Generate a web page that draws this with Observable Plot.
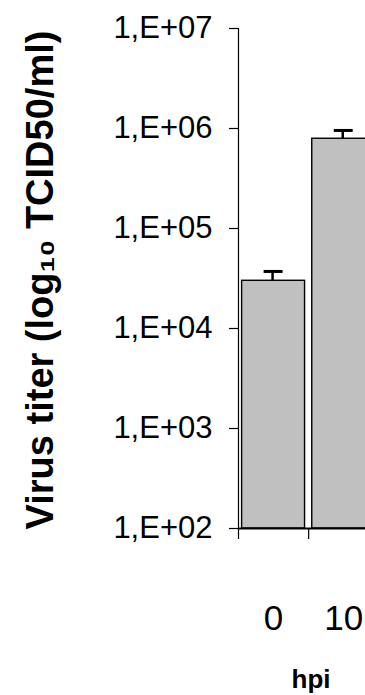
<!DOCTYPE html>
<html>
<head>
<meta charset="utf-8">
<script src="https://cdn.jsdelivr.net/npm/d3@7"></script>
<script src="https://cdn.jsdelivr.net/npm/@observablehq/plot@0.6"></script>
<style>
  body { margin: 0; background: #fff; }
  #chart svg { display: block; }
</style>
</head>
<body>
<div id="chart"></div>
<script>
// Virus titer at each time point (hours post infection): mean with upper error bar
const hours = ["0", "10"];
const titer = [30000, 790000];
const titerSD = [7200, 166000];

const yTicks = [1e2, 1e3, 1e4, 1e5, 1e6, 1e7];
const yTickLabels = ["1,E+02", "1,E+03", "1,E+04", "1,E+05", "1,E+06", "1,E+07"];
const yFloor = 1e2;
const yTitle = "Virus titer (log\u2081\u2080 TCID50/ml)";
const xTitle = "hpi";

// one slot per time point on a linear x axis: slot i spans [i, i + 1]
const rows = hours.map((h, i) => ({
  hpi: h,
  slot: i,
  mid: i + 0.5,
  titer: titer[i],
  top: titer[i] + titerSD[i]
}));
const slotEdges = d3.range(hours.length + 1);

const chart = Plot.plot({
  width: 365,
  height: 695,
  marginTop: 28,
  marginBottom: 167,
  marginLeft: 238,
  marginRight: 0,
  style: {fontFamily: "'Liberation Sans', Arial, sans-serif", background: "#fff", color: "#000"},
  x: {type: "linear", domain: [0, hours.length], range: [238, 378.3]},
  y: {type: "log", domain: [yFloor, 1e7]},
  marks: [
    Plot.rectY(rows, {
      x1: "slot",
      x2: d => d.slot + 1,
      y1: () => yFloor,
      y2: "titer",
      insetLeft: 3.6,
      insetRight: 3.6,
      fill: "#c0c0c0",
      stroke: "#000",
      strokeWidth: 1.4
    }),
    // error bars: stem and cap
    Plot.ruleX(rows, {x: "mid", y1: "titer", y2: "top", stroke: "#000", strokeWidth: 2.5, dx: -1}),
    Plot.ruleY(rows, {y: "top", x1: d => d.mid - 0.135, x2: d => d.mid + 0.135, stroke: "#000", strokeWidth: 3}),
    // axis lines
    Plot.ruleX([0], {stroke: "#000", strokeWidth: 1.2}),
    Plot.ruleY([yFloor], {stroke: "#000", strokeWidth: 1.8}),
    Plot.axisY({
      ticks: yTicks,
      tickFormat: d => yTickLabels[yTicks.indexOf(d)],
      tickSize: 9,
      tickPadding: 17,
      fontSize: 31,
      strokeWidth: 1.2,
      label: null
    }),
    // tick marks between time points
    Plot.axisX({
      ticks: slotEdges,
      tickFormat: () => "",
      tickSize: 11,
      strokeWidth: 1.2,
      label: null
    }),
    // time point labels
    Plot.text(rows, {
      x: "mid",
      text: "hpi",
      frameAnchor: "bottom",
      lineAnchor: "top",
      dy: 77,
      fontSize: 35,
      fill: "#000",
      ariaLabel: "time point label"
    }),
    Plot.text([xTitle], {
      frameAnchor: "bottom",
      textAnchor: "middle",
      lineAnchor: "middle",
      dx: 9,
      dy: 151,
      fontSize: 26,
      fontWeight: "bold",
      fill: "#000",
      ariaLabel: "x title"
    }),
    Plot.text([yTitle], {
      frameAnchor: "left",
      textAnchor: "middle",
      lineAnchor: "middle",
      rotate: -90,
      dx: -198,
      dy: 1.5,
      fontSize: 38,
      fontWeight: "bold",
      fill: "#000"
    })
  ]
});

// the horizontal labels are set in a condensed face
const condense = (label, sx) =>
  chart.querySelectorAll(`g[aria-label="${label}"] text`).forEach(t => {
    t.setAttribute("transform", `${t.getAttribute("transform") || ""} scale(${sx},1)`);
  });
condense("time point label", 0.8);
condense("x title", 0.9);

document.getElementById("chart").append(chart);
</script>
</body>
</html>
